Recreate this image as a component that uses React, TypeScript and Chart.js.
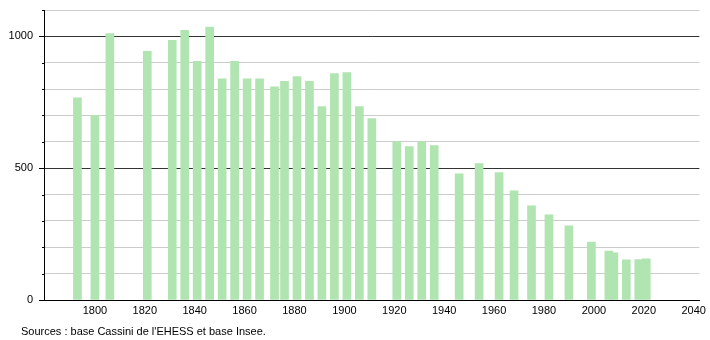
import React, { useEffect, useRef } from "react";
import { Chart, registerables } from "chart.js";

Chart.register(...registerables);

const years = [
  1793, 1800, 1806, 1821, 1831, 1836, 1841, 1846, 1851, 1856, 1861, 1866, 1872,
  1876, 1881, 1886, 1891, 1896, 1901, 1906, 1911, 1921, 1926, 1931, 1936, 1946,
  1954, 1962, 1968, 1975, 1982, 1990, 1999, 2006, 2008, 2013, 2018, 2021,
];
const population = [
  767, 700, 1011, 943, 985, 1023, 905, 1035, 839, 905, 839, 839, 809,
  829, 847, 829, 734, 859, 863, 734, 688, 601, 582, 601, 586, 479,
  517, 483, 414, 357, 323, 281, 220, 186, 179, 152, 153, 156,
];
const xTickYears = [1800, 1820, 1840, 1860, 1880, 1900, 1920, 1940, 1960, 1980, 2000, 2020, 2040];
const yLabelValues = [0, 500, 1000];
const sourceText = "Sources : base Cassini de l'EHESS et base Insee.";

const FONT = "'Liberation Sans', Arial, sans-serif";

const tickPlugin = {
  id: "yTicks",
  afterDraw(chart: any) {
    const { ctx } = chart;
    const y = chart.scales.y;
    const left = chart.chartArea.left;
    ctx.save();
    ctx.strokeStyle = "#000";
    ctx.lineWidth = 1;
    y.ticks.forEach((t: any) => {
      const py = Math.round(y.getPixelForValue(t.value)) + 0.5;
      const len = t.value % 500 === 0 ? 5 : 2;
      ctx.beginPath();
      ctx.moveTo(left - len, py);
      ctx.lineTo(left, py);
      ctx.stroke();
    });
    ctx.restore();
  },
};

export default function App() {
  const ref = useRef<HTMLCanvasElement>(null);
  useEffect(() => {
    document.body.style.margin = "0";
    const chart = new Chart(ref.current!, {
      type: "bar",
      data: {
        datasets: [
          {
            data: years.map((x, i) => ({ x, y: population[i] })),
            backgroundColor: "rgb(176,228,176)",
            barThickness: 8,
          },
        ],
      },
      options: {
        animation: false,
        responsive: false,
        maintainAspectRatio: false,
        layout: { padding: { top: 10, right: 10, left: 0, bottom: 0 } },
        plugins: { legend: { display: false }, tooltip: { enabled: false } },
        scales: {
          x: {
            type: "linear",
            offset: false,
            min: 1779.6,
            max: 2042.3,
            afterBuildTicks: (s: any) => {
              s.ticks = xTickYears.map((v) => ({ value: v }));
            },
            afterFit: (s: any) => {
              s.height = 40;
            },
            grid: { display: false, drawTicks: false, offset: false },
            border: { display: true, color: "#000", width: 1 },
            ticks: {
              color: "#000",
              font: { family: FONT, size: 11 },
              padding: 4,
              maxRotation: 0,
              autoSkip: false,
              callback: (v: any) => String(v),
            },
          },
          y: {
            min: 0,
            max: 1100,
            afterFit: (s: any) => {
              s.width = 44;
              s.paddingTop = 0;
              s.paddingBottom = 0;
            },
            grid: {
              drawTicks: false,
              color: (c: any) =>
                c.tick && c.tick.value % 500 === 0 ? "#333" : "#cccccc",
            },
            border: { display: true, color: "#000", width: 1 },
            ticks: {
              stepSize: 100,
              color: "#000",
              font: { family: FONT, size: 11 },
              padding: 11,
              autoSkip: false,
              callback: (v: any) => (yLabelValues.includes(Number(v)) ? String(v) : ""),
            },
          },
        },
      },
      plugins: [tickPlugin],
    });
    return () => chart.destroy();
  }, []);
  return (
    <div style={{ position: "relative", width: 710, height: 340, background: "#fff" }}>
      <canvas ref={ref} width={710} height={340} style={{ width: 710, height: 340, display: "block" }} />
      <div
        style={{
          position: "absolute",
          left: 21,
          top: 324,
          fontFamily: FONT,
          fontSize: 11,
          color: "#000",
          whiteSpace: "nowrap",
          lineHeight: "14px",
        }}
      >
        {sourceText}
      </div>
    </div>
  );
}
